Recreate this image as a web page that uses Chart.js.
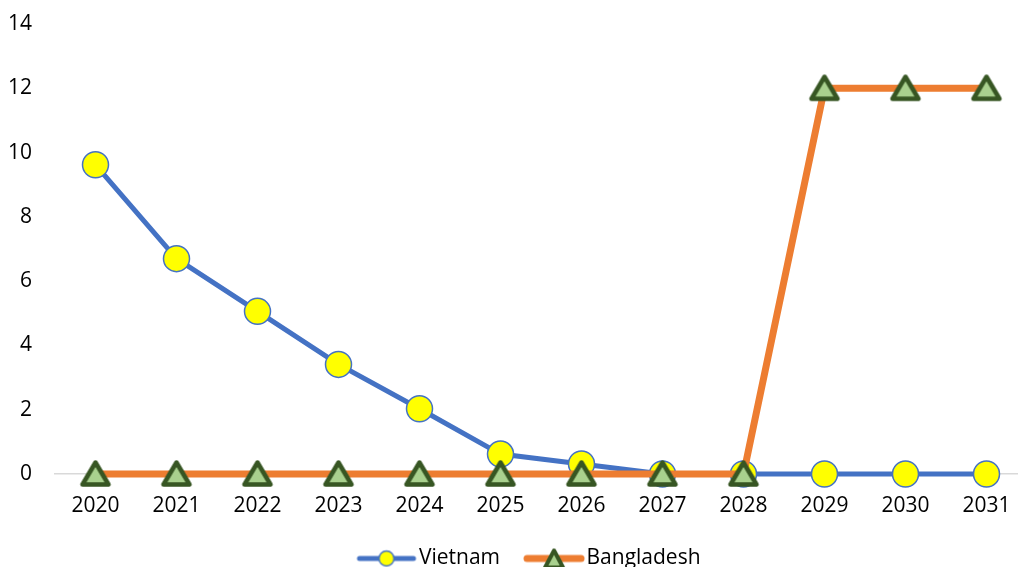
<!DOCTYPE html>
<html lang="en">
<head>
  <meta charset="UTF-8" />
  <title>Vietnam vs Bangladesh</title>
  <style>
    html, body { margin: 0; padding: 0; background: #fff; overflow: hidden; }
    .wrap { position: relative; width: 1027px; height: 579px; }
  </style>
</head>
<body>
  <div class="wrap"><canvas id="grafico"></canvas></div>

  <script src="https://cdn.jsdelivr.net/npm/chart.js"></script>
  <script>
    // Dados
    const anos = ['2020', '2021', '2022', '2023', '2024', '2025', '2026', '2027', '2028', '2029', '2030', '2031'];
    const vietnam = [9.62, 6.7, 5.06, 3.41, 2.03, 0.62, 0.31, 0, 0, 0, 0, 0];
    const bangladesh = [0, 0, 0, 0, 0, 0, 0, 0, 0, 12, 12, 12];
    const ticksY = [0, 2, 4, 6, 8, 10, 12, 14];

    const fonte = { family: 'Open Sans', size: 21 };

    function triangulo(ctx, x, y, meia, alto, baixo, borda) {
      ctx.beginPath();
      ctx.moveTo(x, y - alto); ctx.lineTo(x + meia, y + baixo); ctx.lineTo(x - meia, y + baixo); ctx.closePath();
      ctx.fillStyle = '#A9D18E';
      ctx.fill();
      ctx.lineWidth = borda;
      ctx.lineJoin = 'round';
      ctx.strokeStyle = '#375623';
      ctx.stroke();
    }

    // Marcador do Bangladesh: triângulo centrado pela caixa (não pelo baricentro)
    const marcadorTriangulo = document.createElement('canvas');
    marcadorTriangulo.width = 34; marcadorTriangulo.height = 34;
    triangulo(marcadorTriangulo.getContext('2d'), 17, 17, 13, 11.5, 10.5, 4.5);

    // Ícones da legenda: linha com o marcador no meio.
    // A imagem (90px) fica centrada numa caixa de 70px; a parte esquerda vazia dá o espaço entre itens.
    function iconeLegenda(corLinha, larguraLinha, desenhaMarcador) {
      const c = document.createElement('canvas');
      c.width = 90; c.height = 26;
      const ctx = c.getContext('2d');
      ctx.strokeStyle = corLinha;
      ctx.lineWidth = larguraLinha;
      ctx.lineCap = 'round';
      ctx.beginPath();
      ctx.moveTo(31, 13); ctx.lineTo(85, 13);
      ctx.stroke();
      desenhaMarcador(ctx, 58, 13);
      return c;
    }

    const iconeVietnam = iconeLegenda('#4472C4', 5, (ctx, x, y) => {
      ctx.beginPath();
      ctx.arc(x, y, 7.5, 0, Math.PI * 2);
      ctx.fillStyle = '#FFFF00';
      ctx.fill();
      ctx.lineWidth = 1.5;
      ctx.strokeStyle = '#4472C4';
      ctx.stroke();
    });

    const iconeBangladesh = iconeLegenda('#ED7D31', 7, (ctx, x, y) => {
      triangulo(ctx, x, y + 1, 9, 9, 8, 4);
    });

    // Empurra a legenda um pouco para a direita
    const deslocaLegenda = {
      id: 'deslocaLegenda',
      afterLayout(chart) {
        if (chart.legend) chart.legend.left += 12;
      }
    };

    new Chart(document.getElementById('grafico'), {
      type: 'line',
      data: {
        labels: anos,
        datasets: [{
          label: 'Vietnam',
          data: vietnam,
          borderColor: '#4472C4',
          borderWidth: 5,
          pointStyle: 'circle',
          pointRadius: 13,
          pointBackgroundColor: '#FFFF00',
          pointBorderColor: '#4472C4',
          pointBorderWidth: 1.5,
          clip: false,
          order: 2
        }, {
          label: 'Bangladesh',
          data: bangladesh,
          borderColor: '#ED7D31',
          borderWidth: 7,
          pointStyle: marcadorTriangulo,
          pointRadius: 14,
          clip: false,
          order: 1
        }]
      },
      options: {
        responsive: true,
        maintainAspectRatio: false,
        animation: false,
        layout: { autoPadding: false, padding: { top: 24, right: 0, left: 0, bottom: 0 } },
        plugins: {
          tooltip: { enabled: false },
          legend: {
            position: 'bottom',
            labels: {
              font: fonte,
              color: '#000',
              usePointStyle: true,
              pointStyleWidth: 70,
              boxHeight: 21,
              padding: 6,
              generateLabels: chart => chart.data.datasets.map((ds, i) => ({
                text: ds.label,
                datasetIndex: i,
                pointStyle: i === 0 ? iconeVietnam : iconeBangladesh,
                fillStyle: 'transparent',
                strokeStyle: 'transparent',
                lineWidth: 0,
                fontColor: '#000'
              }))
            }
          }
        },
        scales: {
          x: {
            offset: true,
            grid: { display: false, drawTicks: false, offset: true },
            border: { display: true, color: '#D9D9D9', width: 1.5 },
            ticks: { font: fonte, color: '#000', padding: 19, maxRotation: 0 },
            afterFit: s => { s.height = 68; s.paddingLeft = 0; s.paddingRight = 0; }
          },
          y: {
            min: 0,
            max: 14,
            grid: { display: false, drawTicks: false },
            border: { display: false },
            afterBuildTicks: s => { s.ticks = ticksY.map(v => ({ value: v })); },
            ticks: { font: fonte, color: '#000', padding: 23 },
            afterFit: s => { s.width = 55; s.paddingTop = 0; s.paddingBottom = 0; }
          }
        }
      },
      plugins: [deslocaLegenda]
    });
  </script>
</body>
</html>
